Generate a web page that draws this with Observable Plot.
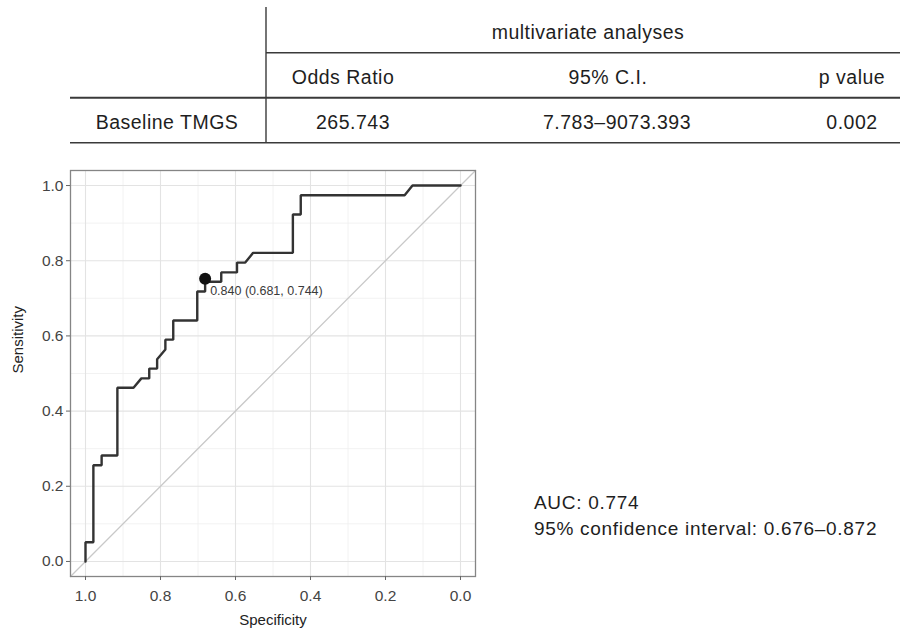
<!DOCTYPE html>
<html>
<head>
<meta charset="utf-8">
<script src="https://cdn.jsdelivr.net/npm/d3@7"></script>
<script src="https://cdn.jsdelivr.net/npm/@observablehq/plot@0.6"></script>
<style>
  html, body { margin: 0; padding: 0; background: #fff; }
  #wrap { position: relative; width: 900px; height: 629px; overflow: hidden; font-family: "Liberation Sans", Arial, sans-serif; }
  #table { position: absolute; left: 0; top: 0; }
  #chart { position: absolute; left: 0; top: 160px; }
  #auc { position: absolute; left: 534px; top: 490px; font-size: 19px; letter-spacing: 0.7px; line-height: 26px; color: #1e1e1e; white-space: nowrap; }
</style>
</head>
<body>
<div id="wrap">
  <div id="table"></div>
  <div id="chart"></div>
  <div id="auc"></div>
</div>
<script>
// ---- Table data ----
const tableGroupHeader = "multivariate analyses";
const tableColumns = ["Odds Ratio", "95% C.I.", "p value"];
const tableRowLabels = ["Baseline TMGS"];
const tableRowValues = [["265.743", "7.783\u20139073.393", "0.002"]];

// ---- AUC summary ----
const aucValue = "0.774";
const aucCI = ["0.676", "0.872"];

// ---- ROC curve (specificity, sensitivity) ----
const rocSpecificity = [1.000, 1.000, 0.979, 0.979, 0.957, 0.957, 0.915, 0.915, 0.872, 0.851, 0.830, 0.830, 0.809, 0.809, 0.787, 0.787, 0.766, 0.766, 0.702, 0.702, 0.681, 0.681, 0.638, 0.638, 0.596, 0.596, 0.574, 0.553, 0.447, 0.447, 0.426, 0.426, 0.149, 0.128, 0.000];
const rocSensitivity = [0.000, 0.051, 0.051, 0.256, 0.256, 0.282, 0.282, 0.462, 0.462, 0.487, 0.487, 0.513, 0.513, 0.538, 0.564, 0.590, 0.590, 0.641, 0.641, 0.718, 0.718, 0.744, 0.744, 0.769, 0.769, 0.795, 0.795, 0.821, 0.821, 0.923, 0.923, 0.974, 0.974, 1.000, 1.000];

// best threshold point
const thresholdPoint = { specificity: 0.681, sensitivity: 0.752, labelSens: 0.744, label: "0.840 (0.681, 0.744)" };

// ticks
const majorTicks = [1.0, 0.8, 0.6, 0.4, 0.2, 0.0];
const minorTicks = [0.9, 0.7, 0.5, 0.3, 0.1];
const axisTitles = { x: "Specificity", y: "Sensitivity" };

// ---- Draw table ----
(function drawTable() {
  const W = 900, H = 160;
  const svg = d3.select("#table").append("svg").attr("width", W).attr("height", H)
    .style("font-family", '"Liberation Sans", Arial, sans-serif');
  const lineColor = "#3a3a3a";
  const vx = 266;
  const colCenters = [343, 608, 852];
  const valueCenters = [353, 617, 852];
  svg.append("line").attr("x1", vx).attr("x2", vx).attr("y1", 7).attr("y2", 143).attr("stroke", lineColor).attr("stroke-width", 1.4);
  svg.append("line").attr("x1", vx).attr("x2", W).attr("y1", 52.7).attr("y2", 52.7).attr("stroke", lineColor).attr("stroke-width", 1.4);
  svg.append("line").attr("x1", 70).attr("x2", W).attr("y1", 97.7).attr("y2", 97.7).attr("stroke", lineColor).attr("stroke-width", 2);
  svg.append("line").attr("x1", 70).attr("x2", W).attr("y1", 142.7).attr("y2", 142.7).attr("stroke", lineColor).attr("stroke-width", 1.6);
  const txt = (s, x, y) => svg.append("text").attr("x", x).attr("y", y).attr("text-anchor", "middle")
    .attr("font-size", 19.5).attr("letter-spacing", 0.5).attr("fill", "#1e1e1e").text(s);
  txt(tableGroupHeader, 588, 39);
  tableColumns.forEach((c, i) => txt(c, colCenters[i], 84));
  tableRowLabels.forEach((r, j) => {
    txt(r, 167, 129 + j * 45);
    tableRowValues[j].forEach((v, i) => txt(v, valueCenters[i], 129 + j * 45));
  });
})();

// ---- AUC text ----
document.getElementById("auc").innerHTML =
  `AUC: ${aucValue}<br>95% confidence interval: ${aucCI[0]}\u2013${aucCI[1]}`;

// ---- ROC plot ----
const roc = rocSpecificity.map((s, i) => ({ specificity: s, sensitivity: rocSensitivity[i] }));
const xDomain = [1.04, -0.04];
const fmt = d3.format(".1f");

const chart = Plot.plot({
  width: 480,
  height: 469,
  marginLeft: 70,
  marginRight: 5,
  marginTop: 10,
  marginBottom: 53,
  style: { fontFamily: '"Liberation Sans", Arial, sans-serif', background: "#fff", color: "#4d4d4d" },
  x: { domain: xDomain, ticks: majorTicks, tickFormat: fmt },
  y: { domain: [-0.04, 1.04], ticks: majorTicks, tickFormat: fmt },
  marks: [
    Plot.gridX(minorTicks, { stroke: "#efefef", strokeOpacity: 1, strokeWidth: 0.8 }),
    Plot.gridY(minorTicks, { stroke: "#efefef", strokeOpacity: 1, strokeWidth: 0.8 }),
    Plot.gridX(majorTicks, { stroke: "#e3e3e3", strokeOpacity: 1, strokeWidth: 1.1 }),
    Plot.gridY(majorTicks, { stroke: "#e3e3e3", strokeOpacity: 1, strokeWidth: 1.1 }),
    Plot.line(xDomain, { x: d => d, y: d => 1 - d, stroke: "#c9c9c9", strokeWidth: 1.3 }),
    Plot.line(roc, { x: "specificity", y: "sensitivity", stroke: "#333", strokeWidth: 2.4, strokeLinejoin: "miter" }),
    Plot.dot([thresholdPoint], { x: "specificity", y: "sensitivity", r: 6, fill: "#111", stroke: "none" }),
    Plot.text([thresholdPoint], { x: "specificity", y: "labelSens", text: "label", textAnchor: "start", dx: 5, dy: 9, fontSize: 12.5, fill: "#3a3a3a" }),
    Plot.frame({ stroke: "#858585", strokeWidth: 1.3 }),
    Plot.axisX(majorTicks, { tickFormat: fmt, tickSize: 4, tickPadding: 9, fontSize: 15.5, label: null, stroke: "#666", fill: "#444" }),
    Plot.axisY(majorTicks, { tickFormat: fmt, tickSize: 4, tickPadding: 3, fontSize: 15.5, label: null, stroke: "#666", fill: "#444" }),
    Plot.text([axisTitles.x], { frameAnchor: "bottom", dy: 44, fontSize: 15, fill: "#222", lineAnchor: "middle" }),
    Plot.text([axisTitles.y], { frameAnchor: "left", dx: -52, rotate: -90, fontSize: 15, fill: "#222", lineAnchor: "middle" })
  ]
});
document.getElementById("chart").appendChild(chart);
</script>
</body>
</html>
